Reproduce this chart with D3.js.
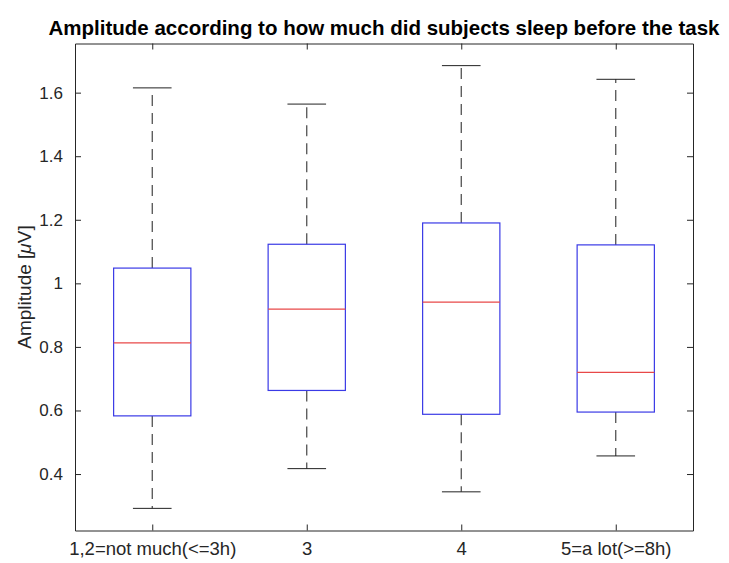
<!DOCTYPE html>
<html>
<head>
<meta charset="utf-8">
<script src="https://cdn.jsdelivr.net/npm/d3@7"></script>
<style>
  html, body { margin: 0; padding: 0; background: #fff; }
  svg { display: block; font-family: "Liberation Sans", Arial, Helvetica, sans-serif; }
</style>
</head>
<body>
<svg id="chart" width="729" height="563"></svg>
<script>
// Sleep groups and five-number summaries of the amplitude (µV)
const categories = ["1,2=not much(<=3h)", "3", "4", "5=a lot(>=8h)"];
const lowerWhisker = [0.292, 0.417, 0.344, 0.457];
const q1 = [0.583, 0.663, 0.588, 0.595];
const median = [0.813, 0.919, 0.941, 0.720];
const q3 = [1.048, 1.123, 1.190, 1.121];
const upperWhisker = [1.615, 1.564, 1.685, 1.642];
const yTicks = [0.4, 0.6, 0.8, 1.0, 1.2, 1.4, 1.6];

const groups = categories.map((c, i) => ({
  name: c, pos: i + 1,
  lo: lowerWhisker[i], q1: q1[i], med: median[i], q3: q3[i], hi: upperWhisker[i]
}));

const svg = d3.select("#chart");
const W = 729, H = 563;
const m = { left: 75, right: W - 693, top: 43.5, bottom: H - 530.5 };

svg.append("rect").attr("width", W).attr("height", H).attr("fill", "#fff");

// y-limits padded 5% around the whisker extent
const yMin = d3.min(lowerWhisker), yMax = d3.max(upperWhisker);
const pad = (yMax - yMin) * 0.05;

const x = d3.scaleLinear().domain([0.5, categories.length + 0.5]).range([m.left, W - m.right]);
const y = d3.scaleLinear().domain([yMin - pad, yMax + pad]).range([H - m.bottom, m.top]);

const axisColor = "#262626";
const tickLen = 6;

// axes with inward ticks, mirrored on top and right
const gx = svg.append("g").attr("transform", `translate(0,${H - m.bottom})`)
  .call(d3.axisBottom(x).tickValues(groups.map(g => g.pos))
    .tickFormat((d, i) => categories[i]).tickSizeInner(-tickLen).tickSizeOuter(0).tickPadding(11));
const gy = svg.append("g").attr("transform", `translate(${m.left},0)`)
  .call(d3.axisLeft(y).tickValues(yTicks).tickFormat(d => d === 1 ? "1" : d3.format(".1f")(d))
    .tickSizeInner(-tickLen).tickSizeOuter(0).tickPadding(12));
const gxt = svg.append("g").attr("transform", `translate(0,${m.top})`)
  .call(d3.axisTop(x).tickValues(groups.map(g => g.pos)).tickFormat("").tickSizeInner(-tickLen).tickSizeOuter(0));
const gyr = svg.append("g").attr("transform", `translate(${W - m.right},0)`)
  .call(d3.axisRight(y).tickValues(yTicks).tickFormat("").tickSizeInner(-tickLen).tickSizeOuter(0));

[gx, gy, gxt, gyr].forEach(g => {
  g.select(".domain").attr("stroke", axisColor).attr("stroke-width", 1);
  g.selectAll(".tick line").attr("stroke", axisColor).attr("stroke-width", 1);
  g.selectAll(".tick text").attr("fill", axisColor)
    .style("font-family", '"Liberation Sans", Arial, sans-serif');
});
gx.selectAll(".tick text").style("font-size", "18.5px");
gy.selectAll(".tick text").style("font-size", "17px");

// boxes
const boxW = x(1.25) - x(1);   // half of box width (0.5 units total)
const capW = boxW / 2;
const plot = svg.append("g");

const bg = plot.selectAll("g.box").data(groups).join("g").attr("class", "box");

// dashed whiskers
bg.append("line").attr("x1", d => x(d.pos)).attr("x2", d => x(d.pos))
  .attr("y1", d => y(d.q3)).attr("y2", d => y(d.hi))
  .attr("stroke", "#444").attr("stroke-width", 1.2).attr("stroke-dasharray", "11,7");
bg.append("line").attr("x1", d => x(d.pos)).attr("x2", d => x(d.pos))
  .attr("y1", d => y(d.q1)).attr("y2", d => y(d.lo))
  .attr("stroke", "#444").attr("stroke-width", 1.2).attr("stroke-dasharray", "11,7");
// whisker caps
bg.append("line").attr("x1", d => x(d.pos) - capW).attr("x2", d => x(d.pos) + capW)
  .attr("y1", d => y(d.hi)).attr("y2", d => y(d.hi)).attr("stroke", "#222").attr("stroke-width", 1);
bg.append("line").attr("x1", d => x(d.pos) - capW).attr("x2", d => x(d.pos) + capW)
  .attr("y1", d => y(d.lo)).attr("y2", d => y(d.lo)).attr("stroke", "#222").attr("stroke-width", 1);
// box
bg.append("rect").attr("x", d => x(d.pos) - boxW).attr("width", 2 * boxW)
  .attr("y", d => y(d.q3)).attr("height", d => y(d.q1) - y(d.q3))
  .attr("fill", "none").attr("stroke", "#3a3ae6").attr("stroke-width", 1.2);
// median
bg.append("line").attr("x1", d => x(d.pos) - boxW).attr("x2", d => x(d.pos) + boxW)
  .attr("y1", d => y(d.med)).attr("y2", d => y(d.med))
  .attr("stroke", "#e84848").attr("stroke-width", 1.2);

// title
svg.append("text").attr("x", (m.left + W - m.right) / 2).attr("y", 35)
  .attr("text-anchor", "middle").style("font-size", "20.5px").style("font-weight", "bold")
  .attr("fill", "#000").text("Amplitude according to how much did subjects sleep before the task");

// y label, with an italic mu as in TeX markup
const yl = svg.append("text").attr("transform", `translate(31,${(m.top + H - m.bottom) / 2}) rotate(-90)`)
  .attr("text-anchor", "middle").style("font-size", "19px").attr("fill", axisColor);
yl.append("tspan").text("Amplitude [");
yl.append("tspan").style("font-style", "italic").text("μ");
yl.append("tspan").text("V]");
</script>
</body>
</html>
